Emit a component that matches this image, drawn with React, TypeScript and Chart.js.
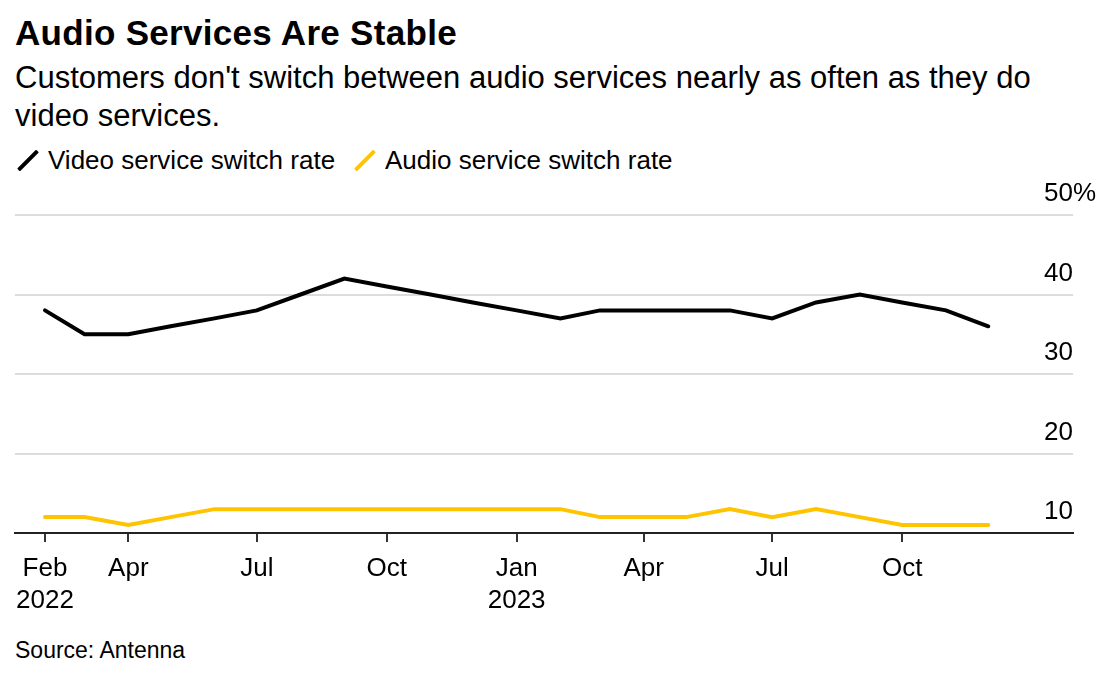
import React, { useEffect, useRef } from "react";
import { Chart, registerables } from "chart.js";

Chart.register(...registerables);

const months = [
  "2022-02", "2022-03", "2022-04", "2022-05", "2022-06", "2022-07", "2022-08", "2022-09",
  "2022-10", "2022-11", "2022-12", "2023-01", "2023-02", "2023-03", "2023-04", "2023-05",
  "2023-06", "2023-07", "2023-08", "2023-09", "2023-10", "2023-11", "2023-12",
];
const videoRate = [38, 35, 35, 36, 37, 38, 40, 42, 41, 40, 39, 38, 37, 38, 38, 38, 38, 37, 39, 40, 39, 38, 36];
const audioRate = [12, 12, 11, 12, 13, 13, 13, 13, 13, 13, 13, 13, 13, 12, 12, 12, 13, 12, 13, 12, 11, 11, 11];

const xTickMonths = ["2022-02", "2022-04", "2022-07", "2022-10", "2023-01", "2023-04", "2023-07", "2023-10"];
const xTickLabels = [["Feb", "2022"], ["Apr"], ["Jul"], ["Oct"], ["Jan", "2023"], ["Apr"], ["Jul"], ["Oct"]];
const yTicks = [10, 20, 30, 40, 50];
const yTickLabels = ["10", "20", "30", "40", "50%"];

const seriesNames = ["Video service switch rate", "Audio service switch rate"];
const seriesColors = ["#000000", "#FFC400"];

const FONT = '"Liberation Sans", Arial, Helvetica, sans-serif';

const toDay = (s: string) => {
  const [y, m] = s.split("-").map(Number);
  return Date.UTC(y, m - 1, 1) / 86400000;
};

export default function App() {
  const canvasRef = useRef<HTMLCanvasElement | null>(null);

  useEffect(() => {
    document.body.style.margin = "0";
    const canvas = canvasRef.current;
    if (!canvas) return;
    const tickMap = new Map<number, string[]>();
    xTickMonths.forEach((m, i) => tickMap.set(toDay(m), xTickLabels[i]));

    const yLabelPlugin = {
      id: "yLabels",
      afterDraw(chart: any) {
        const { ctx, chartArea } = chart;
        const ys = chart.scales.y;
        ctx.save();
        ctx.font = `26px ${FONT}`;
        ctx.fillStyle = "#000";
        ctx.textAlign = "left";
        ctx.textBaseline = "middle";
        yTicks.forEach((v, i) => {
          const py = ys.getPixelForValue(v);
          ctx.fillText(yTickLabels[i], chartArea.right - 29, py - 21);
        });
        ctx.restore();
      },
    };

    const chart = new Chart(canvas, {
      type: "line",
      data: {
        datasets: [
          {
            label: seriesNames[0],
            data: months.map((m, i) => ({ x: toDay(m), y: videoRate[i] })),
            borderColor: seriesColors[0],
            borderWidth: 4,
            pointRadius: 0,
            tension: 0,
            borderCapStyle: "round",
            borderJoinStyle: "miter",
          },
          {
            label: seriesNames[1],
            data: months.map((m, i) => ({ x: toDay(m), y: audioRate[i] })),
            borderColor: seriesColors[1],
            borderWidth: 4,
            pointRadius: 0,
            tension: 0,
            borderCapStyle: "round",
            borderJoinStyle: "miter",
          },
        ],
      },
      options: {
        animation: false,
        responsive: false,
        devicePixelRatio: 1,
        layout: { padding: { left: 15, right: 45, top: 35, bottom: 0 } },
        plugins: { legend: { display: false }, tooltip: { enabled: false } },
        scales: {
          x: {
            type: "linear",
            min: toDay(months[0]) - 21.25,
            max: toDay(months[months.length - 1]) + 60,
            afterBuildTicks: (scale: any) => {
              scale.ticks = xTickMonths.map((m) => ({ value: toDay(m) }));
            },
            afterFit: (scale: any) => {
              scale.height = 87;
            },
            grid: {
              display: true,
              drawOnChartArea: false,
              drawTicks: true,
              tickLength: 9,
              color: "#333",
              lineWidth: 2,
            },
            border: { display: true, color: "#222", width: 2, z: 2 },
            ticks: {
              autoSkip: false,
              maxRotation: 0,
              padding: 11,
              color: "#000",
              font: { family: FONT, size: 26, lineHeight: 1.23 },
              callback: (value: any) => tickMap.get(Number(value)) ?? "",
            },
          },
          y: {
            position: "right",
            min: 10,
            max: 50,
            afterBuildTicks: (scale: any) => {
              scale.ticks = yTicks.map((v) => ({ value: v }));
            },
            afterFit: (scale: any) => {
              scale.width = 0;
            },
            grid: {
              drawTicks: false,
              lineWidth: 2,
              color: (ctx: any) => (ctx.tick && ctx.tick.value === 10 ? "rgba(0,0,0,0)" : "#dcdcdc"),
            },
            border: { display: false },
            ticks: { display: false },
          },
        },
      },
      plugins: [yLabelPlugin],
    } as any);

    return () => chart.destroy();
  }, []);

  const slash = (color: string, left: number) => (
    <div
      style={{
        position: "absolute",
        left,
        top: 146.5,
        width: 4,
        height: 27,
        background: color,
        transform: "rotate(45deg)",
        borderRadius: 1,
      }}
    />
  );

  return (
    <div style={{ position: "fixed", left: 0, top: 0, width: 1118, height: 682, background: "#fff", fontFamily: FONT, color: "#000" }}>
      <div style={{ position: "absolute", left: 15, top: 13, fontSize: 35, fontWeight: 700, lineHeight: "40px", whiteSpace: "nowrap", letterSpacing: 0.3 }}>
        Audio Services Are Stable
      </div>
      <div style={{ position: "absolute", left: 15, top: 59, fontSize: 31, lineHeight: "38px", whiteSpace: "nowrap" }}>
        Customers don't switch between audio services nearly as often as they do
        <br />
        video services.
      </div>
      {slash(seriesColors[0], 25.5)}
      <div style={{ position: "absolute", left: 48, top: 145, fontSize: 26, lineHeight: "30px", whiteSpace: "nowrap" }}>{seriesNames[0]}</div>
      {slash(seriesColors[1], 362.5)}
      <div style={{ position: "absolute", left: 385, top: 145, fontSize: 26, lineHeight: "30px", whiteSpace: "nowrap" }}>{seriesNames[1]}</div>
      <canvas ref={canvasRef} width={1118} height={440} style={{ position: "absolute", left: 0, top: 180, width: 1118, height: 440 }} />
      <div style={{ position: "absolute", left: 15, top: 637, fontSize: 23, lineHeight: "26px", whiteSpace: "nowrap" }}>Source: Antenna</div>
    </div>
  );
}
